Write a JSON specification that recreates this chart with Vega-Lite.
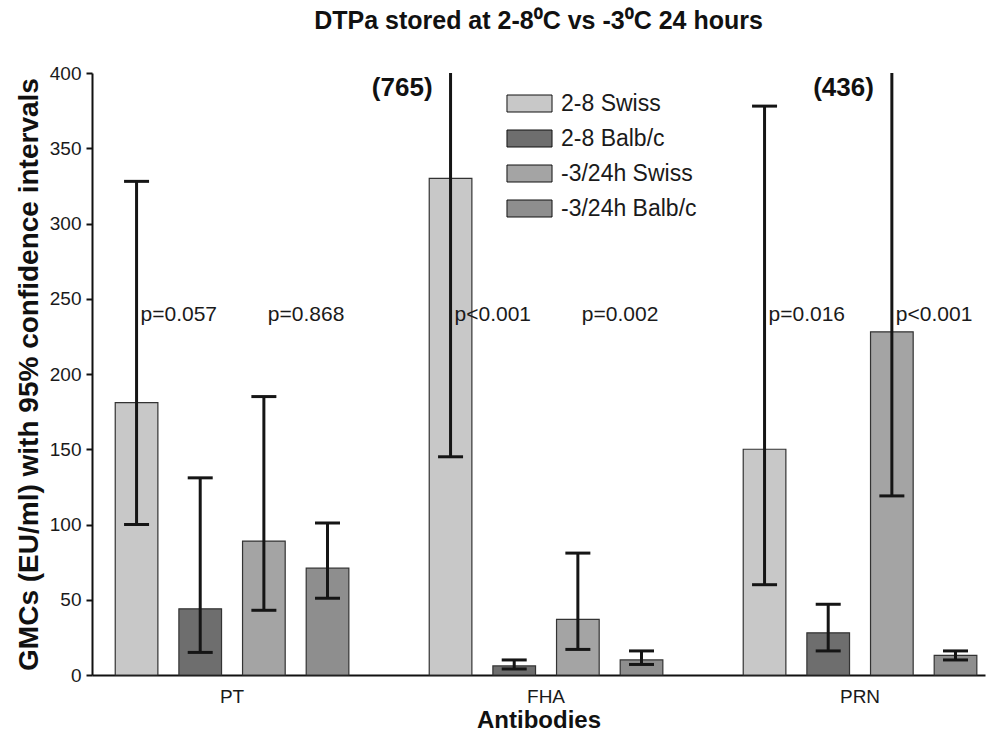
{
  "$schema": "https://vega.github.io/schema/vega-lite/v6.json",
  "width": 893,
  "height": 602,
  "autosize": {"type": "none"},
  "padding": {"left": 92, "top": 73, "right": 3, "bottom": 64},
  "background": "white",
  "title": {
    "text": "DTPa stored at 2-8⁰C vs -3⁰C 24 hours",
    "font": "Liberation Sans",
    "fontWeight": "bold",
    "fontSize": 25,
    "color": "#111111",
    "anchor": "middle",
    "frame": "group",
    "offset": 30
  },
  "config": {
    "view": {"stroke": null},
    "axis": {"labelFont": "Liberation Sans", "titleFont": "Liberation Sans", "labelColor": "#1a1a1a", "titleColor": "#111111", "grid": false}
  },
  "datasets": {
    "bars": [
      {"Antibody": "PT", "Group": "2-8 Swiss", "GMC": 181, "Lower": 100, "Upper": 328},
      {"Antibody": "PT", "Group": "2-8 Balb/c", "GMC": 44, "Lower": 15, "Upper": 131},
      {"Antibody": "PT", "Group": "-3/24h Swiss", "GMC": 89, "Lower": 43, "Upper": 185},
      {"Antibody": "PT", "Group": "-3/24h Balb/c", "GMC": 71, "Lower": 51, "Upper": 101},
      {"Antibody": "FHA", "Group": "2-8 Swiss", "GMC": 330, "Lower": 145, "Upper": 765},
      {"Antibody": "FHA", "Group": "2-8 Balb/c", "GMC": 6, "Lower": 4, "Upper": 10},
      {"Antibody": "FHA", "Group": "-3/24h Swiss", "GMC": 37, "Lower": 17, "Upper": 81},
      {"Antibody": "FHA", "Group": "-3/24h Balb/c", "GMC": 10, "Lower": 7, "Upper": 16},
      {"Antibody": "PRN", "Group": "2-8 Swiss", "GMC": 150, "Lower": 60, "Upper": 378},
      {"Antibody": "PRN", "Group": "2-8 Balb/c", "GMC": 28, "Lower": 16, "Upper": 47},
      {"Antibody": "PRN", "Group": "-3/24h Swiss", "GMC": 228, "Lower": 119, "Upper": 436},
      {"Antibody": "PRN", "Group": "-3/24h Balb/c", "GMC": 13, "Lower": 10, "Upper": 16}
    ],
    "pvals": [
      {"Antibody": "PT", "Group": "2-8 Swiss", "P": "p=0.057"},
      {"Antibody": "PT", "Group": "-3/24h Swiss", "P": "p=0.868"},
      {"Antibody": "FHA", "Group": "2-8 Swiss", "P": "p<0.001"},
      {"Antibody": "FHA", "Group": "-3/24h Swiss", "P": "p=0.002"},
      {"Antibody": "PRN", "Group": "2-8 Swiss", "P": "p=0.016"},
      {"Antibody": "PRN", "Group": "-3/24h Swiss", "P": "p<0.001"}
    ],
    "notes": [
      {"Antibody": "FHA", "Group": "2-8 Swiss", "Note": "(765)"},
      {"Antibody": "PRN", "Group": "-3/24h Swiss", "Note": "(436)"}
    ]
  },
  "layer": [
    {
      "data": {"name": "bars"},
      "mark": {"type": "bar", "stroke": "#333333", "strokeWidth": 1.2},
      "encoding": {
        "x": {
          "field": "Antibody", "type": "nominal", "sort": ["PT", "FHA", "PRN"],
          "scale": {"type": "band", "paddingInner": 0.256, "paddingOuter": 0.05, "align": 0.74},
          "axis": {"title": "Antibodies", "labelAngle": 0, "labelFontSize": 19, "labelPadding": 12, "ticks": false, "tickSize": 0, "domainColor": "#111111", "domainWidth": 2, "titleFontSize": 24, "titleFontWeight": "bold", "titlePadding": 2}
        },
        "xOffset": {
          "field": "Group", "type": "nominal",
          "scale": {"domain": ["2-8 Swiss", "2-8 Balb/c", "-3/24h Swiss", "-3/24h Balb/c"], "paddingInner": 0.33, "paddingOuter": 0}
        },
        "y": {
          "field": "GMC", "type": "quantitative",
          "scale": {"domain": [0, 400], "nice": false},
          "axis": {"title": "GMCs (EU/ml) with 95% confidence intervals", "values": [0, 50, 100, 150, 200, 250, 300, 350, 400], "labelFontSize": 19, "labelPadding": 5, "tickSize": 6, "tickWidth": 2, "tickColor": "#111111", "domainColor": "#111111", "domainWidth": 2, "titleFontSize": 28, "titleFontWeight": "bold", "titlePadding": 6}
        },
        "fill": {
          "field": "Group", "type": "nominal",
          "scale": {"domain": ["2-8 Swiss", "2-8 Balb/c", "-3/24h Swiss", "-3/24h Balb/c"], "range": ["#c8c8c8", "#6e6e6e", "#a4a4a4", "#8e8e8e"]},
          "legend": {
            "title": null, "orient": "none", "legendX": 426, "legendY": 19, "padding": 0,
            "symbolType": "M-2.65,-1H2.65V1H-2.65Z", "symbolSize": 289, "symbolStrokeColor": "#111111", "symbolStrokeWidth": 1, "symbolOpacity": 1,
            "labelFont": "Liberation Sans", "labelFontSize": 23, "labelColor": "#1a1a1a", "labelOffset": 20, "rowPadding": 11
          }
        }
      }
    },
    {
      "data": {"name": "bars"},
      "mark": {"type": "rule", "color": "#151515", "strokeWidth": 3, "clip": true},
      "encoding": {
        "x": {"field": "Antibody", "type": "nominal", "sort": ["PT", "FHA", "PRN"]},
        "xOffset": {"field": "Group", "type": "nominal"},
        "y": {"field": "Lower", "type": "quantitative", "title": "GMCs (EU/ml) with 95% confidence intervals"},
        "y2": {"field": "Upper"}
      }
    },
    {
      "data": {"name": "bars"},
      "mark": {"type": "tick", "color": "#151515", "thickness": 3, "size": 25, "opacity": 1},
      "encoding": {
        "x": {"field": "Antibody", "type": "nominal", "sort": ["PT", "FHA", "PRN"]},
        "xOffset": {"field": "Group", "type": "nominal"},
        "y": {"field": "Lower", "type": "quantitative", "title": "GMCs (EU/ml) with 95% confidence intervals"}
      }
    },
    {
      "data": {"name": "bars"},
      "transform": [{"filter": "datum.Upper <= 400"}],
      "mark": {"type": "tick", "color": "#151515", "thickness": 3, "size": 25, "opacity": 1},
      "encoding": {
        "x": {"field": "Antibody", "type": "nominal", "sort": ["PT", "FHA", "PRN"]},
        "xOffset": {"field": "Group", "type": "nominal"},
        "y": {"field": "Upper", "type": "quantitative", "title": "GMCs (EU/ml) with 95% confidence intervals"}
      }
    },
    {
      "data": {"name": "pvals"},
      "mark": {"type": "text", "align": "left", "baseline": "alphabetic", "dx": 4, "font": "Liberation Sans", "fontSize": 21, "color": "#1a1a1a"},
      "encoding": {
        "x": {"field": "Antibody", "type": "nominal", "sort": ["PT", "FHA", "PRN"]},
        "xOffset": {"field": "Group", "type": "nominal"},
        "y": {"datum": 235, "type": "quantitative"},
        "text": {"field": "P", "type": "nominal"}
      }
    },
    {
      "data": {"name": "notes"},
      "mark": {"type": "text", "align": "right", "baseline": "alphabetic", "dx": -18, "font": "Liberation Sans", "fontSize": 26, "fontWeight": "bold", "color": "#111111"},
      "encoding": {
        "x": {"field": "Antibody", "type": "nominal", "sort": ["PT", "FHA", "PRN"]},
        "xOffset": {"field": "Group", "type": "nominal"},
        "y": {"datum": 385, "type": "quantitative"},
        "text": {"field": "Note", "type": "nominal"}
      }
    }
  ]
}
